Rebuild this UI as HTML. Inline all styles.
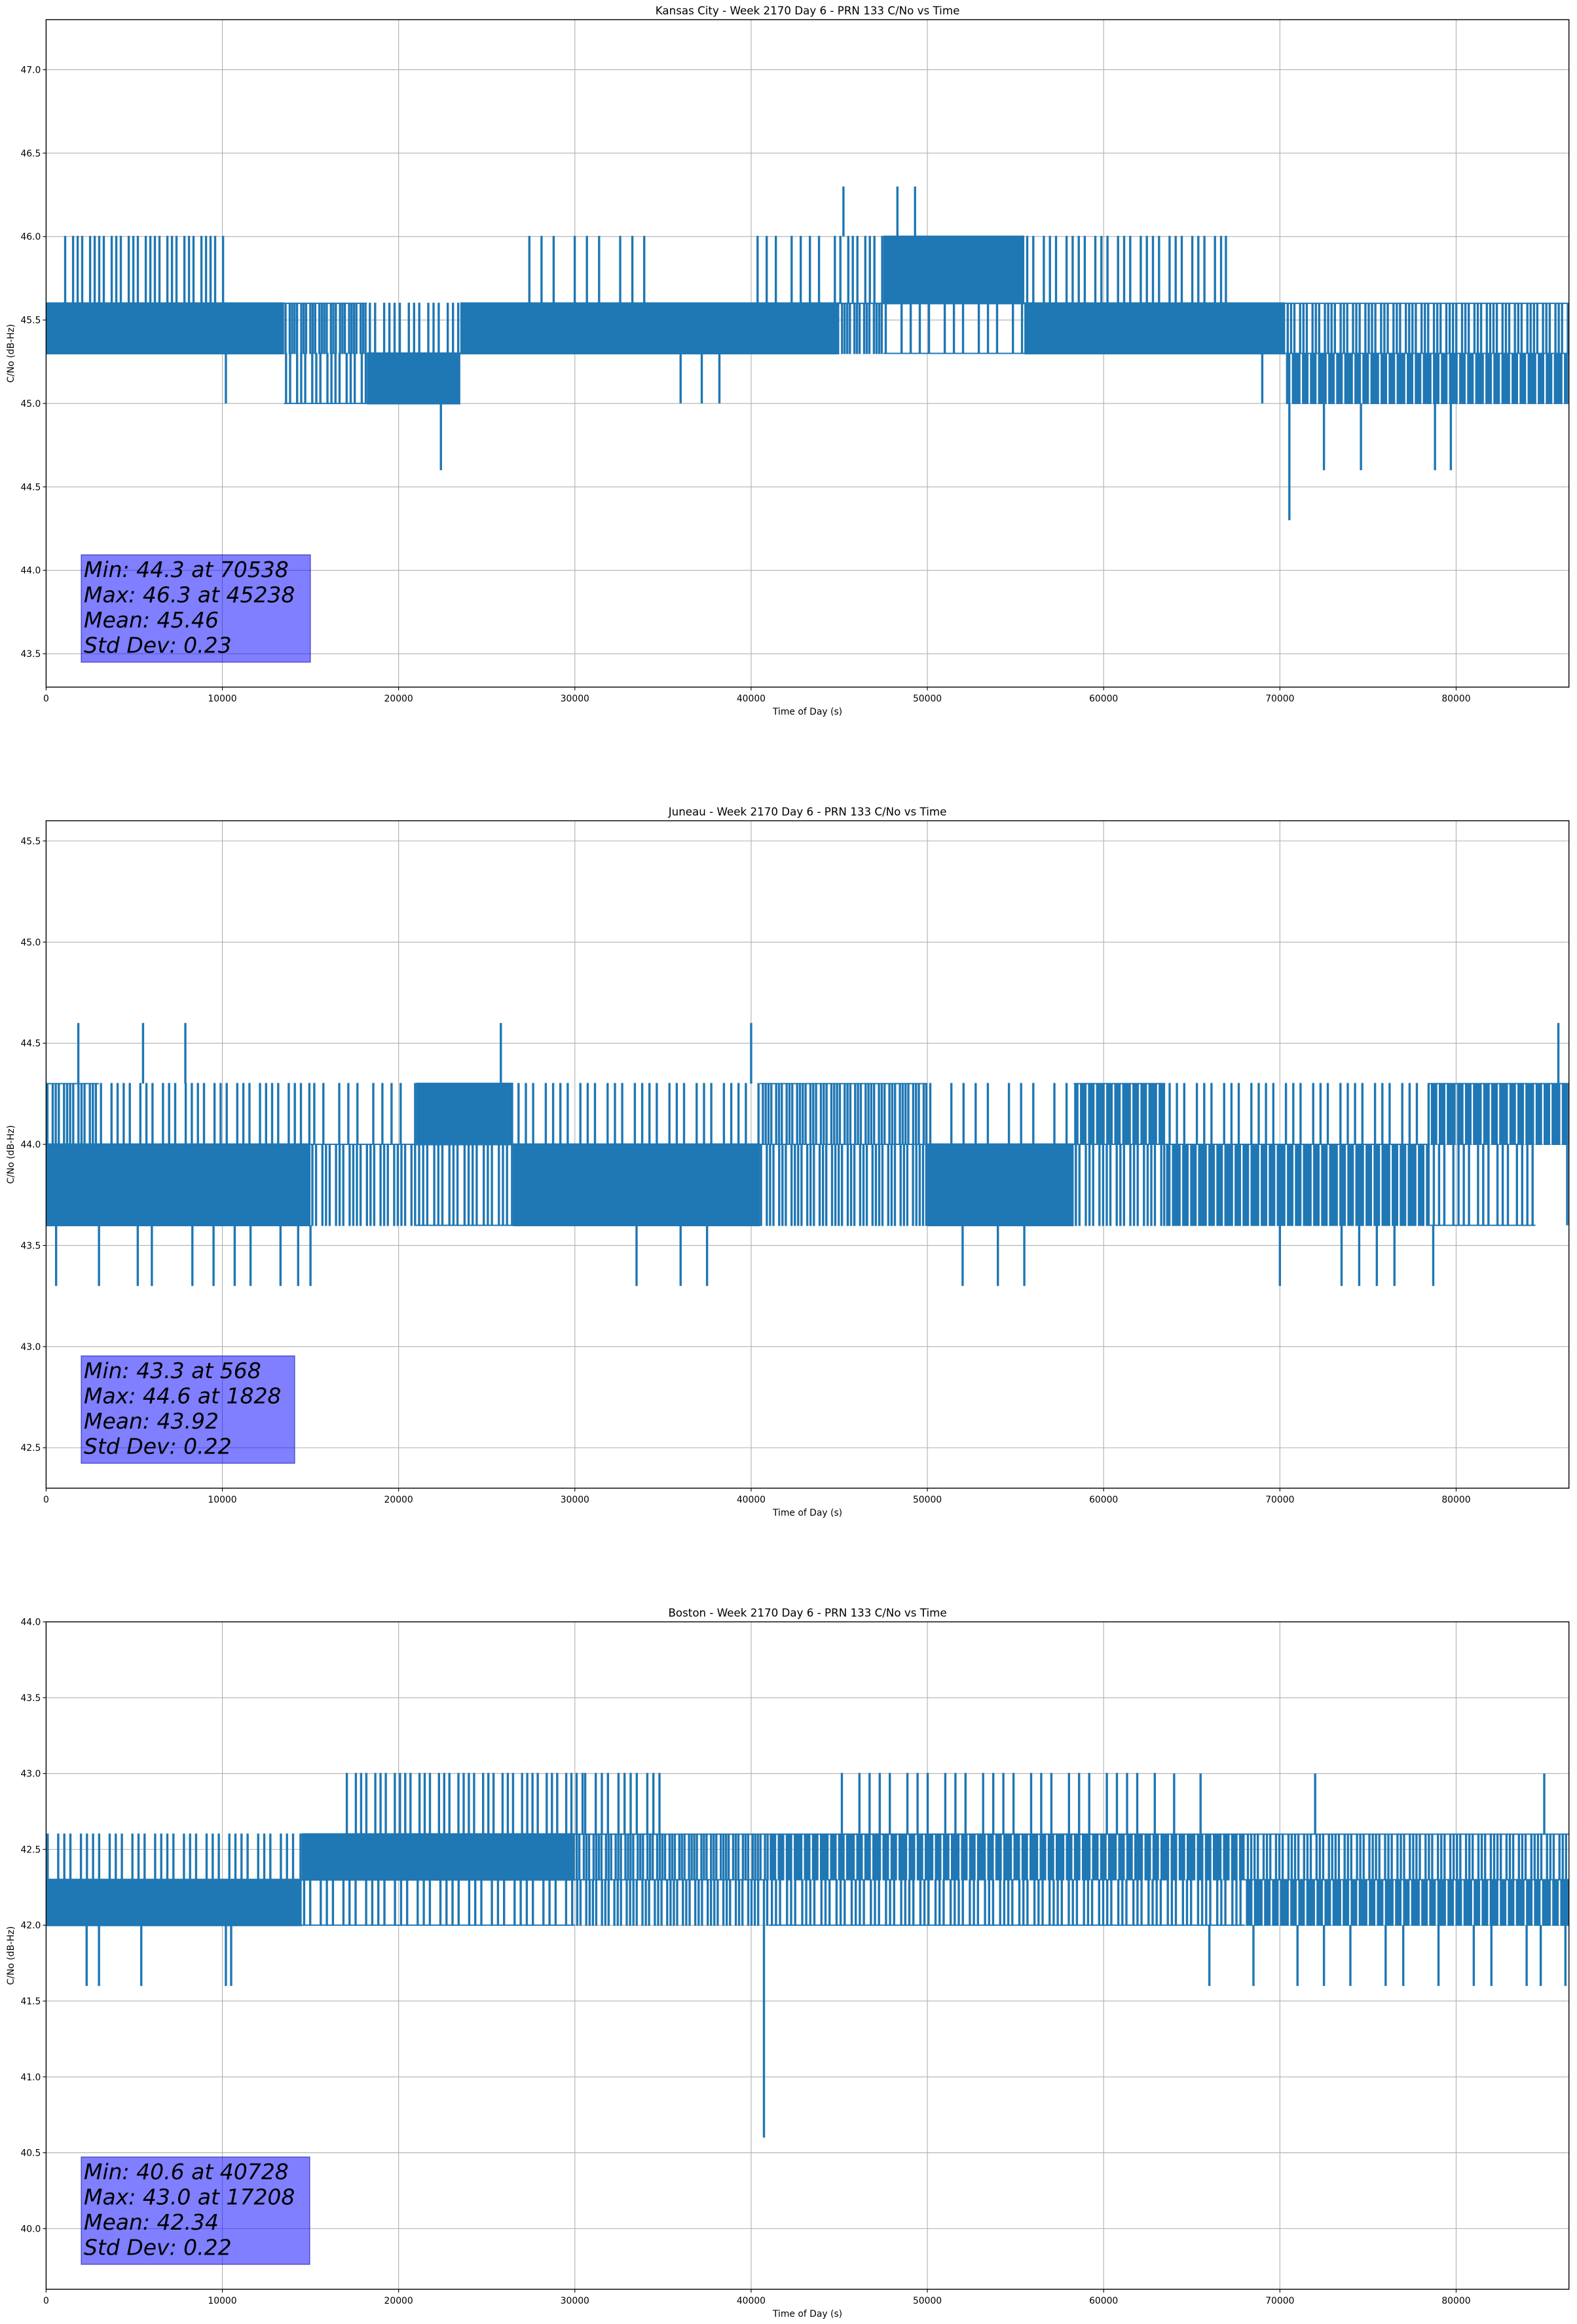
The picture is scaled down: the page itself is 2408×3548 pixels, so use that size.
<!DOCTYPE html>
<html><head><meta charset="utf-8">
<style>
html,body{margin:0;padding:0;background:#fff;}
svg{display:block;font-family:"DejaVu Sans","Liberation Sans",sans-serif;}
</style></head>
<body>
<svg id="fig" width="2408" height="3548" viewBox="0 0 2408 3548" xmlns="http://www.w3.org/2000/svg">
<rect x="0" y="0" width="2408" height="3548" fill="#fff"/>
</svg>
<script>
// ---- data ----
const titles = ["Kansas City - Week 2170 Day 6 - PRN 133 C/No vs Time","Juneau - Week 2170 Day 6 - PRN 133 C/No vs Time","Boston - Week 2170 Day 6 - PRN 133 C/No vs Time"];
const yMins = [43.3, 42.3, 39.6];
const yMaxs = [47.3, 45.6, 44.0];
const yTicks1 = [43.5,44.0,44.5,45.0,45.5,46.0,46.5,47.0];
const yTicks2 = [42.5,43.0,43.5,44.0,44.5,45.0,45.5];
const yTicks3 = [40.0,40.5,41.0,41.5,42.0,42.5,43.0,43.5,44.0];
const xTicks = [0,10000,20000,30000,40000,50000,60000,70000,80000];
const statLines1 = ["Min: 44.3 at 70538","Max: 46.3 at 45238","Mean: 45.46","Std Dev: 0.23"];
const statLines2 = ["Min: 43.3 at 568","Max: 44.6 at 1828","Mean: 43.92","Std Dev: 0.22"];
const statLines3 = ["Min: 40.6 at 40728","Max: 43.0 at 17208","Mean: 42.34","Std Dev: 0.22"];
// bands: [start, end, low, high, density]
const bands1 = [[0,13500,45.3,45.6,1],[1000,10200,45.6,46.0,0.4],[13500,18200,45.3,45.6,0.75],[13500,18200,45.0,45.3,0.45],[18200,23500,45.0,45.3,0.9],[18200,23500,45.3,45.6,0.35],[23500,45000,45.3,45.6,0.95],[27000,34000,45.6,46.0,0.15],[40000,45000,45.6,46.0,0.2],[45000,47500,45.3,45.6,0.7],[45000,47500,45.6,46.0,0.4],[47500,55500,45.6,46.0,0.95],[47500,55500,45.3,45.6,0.2],[55500,70300,45.3,45.6,0.95],[55500,67000,45.6,46.0,0.3],[70300,86400,45.0,45.3,0.85],[70300,86400,45.3,45.6,0.55]];
const spikes1 = [[10200,45.3,45.0],[22400,45.0,44.6],[36000,45.3,45.0],[37200,45.3,45.0],[38200,45.3,45.0],[45238,46.0,46.3],[48300,46.0,46.3],[49300,46.0,46.3],[69000,45.3,45.0],[70538,45.0,44.3],[72500,45.0,44.6],[74600,45.0,44.6],[78800,45.0,44.6],[79700,45.0,44.6]];
const bands2 = [[0,15000,43.6,44.0,0.9],[0,3000,44.0,44.3,0.6],[3000,15000,44.0,44.3,0.3],[15000,21000,43.6,44.0,0.5],[15000,21000,44.0,44.3,0.2],[21000,26500,44.0,44.3,0.9],[21000,26500,43.6,44.0,0.45],[26500,40500,43.6,44.0,0.95],[26500,40500,44.0,44.3,0.25],[40500,50000,44.0,44.3,0.65],[40500,50000,43.6,44.0,0.55],[50000,58300,43.6,44.0,0.95],[50000,58300,44.0,44.3,0.15],[58300,63500,44.0,44.3,0.85],[58300,63500,43.6,44.0,0.5],[63500,78500,43.6,44.0,0.85],[63500,78500,44.0,44.3,0.25],[78500,86400,44.0,44.3,0.85],[78500,84500,43.6,44.0,0.35]];
const spikes2 = [[1828,44.3,44.6],[5500,44.3,44.6],[7900,44.3,44.6],[25800,44.3,44.6],[40000,44.3,44.6],[85800,44.3,44.6],[568,43.6,43.3],[3000,43.6,43.3],[5200,43.6,43.3],[6000,43.6,43.3],[8300,43.6,43.3],[9500,43.6,43.3],[10700,43.6,43.3],[11600,43.6,43.3],[13300,43.6,43.3],[14300,43.6,43.3],[15000,43.6,43.3],[33500,43.6,43.3],[36000,43.6,43.3],[37500,43.6,43.3],[52000,43.6,43.3],[54000,43.6,43.3],[55500,43.6,43.3],[70000,43.6,43.3],[73500,43.6,43.3],[74500,43.6,43.3],[75500,43.6,43.3],[76500,43.6,43.3],[78700,43.6,43.3],[86300,44.3,43.6]];
const bands3 = [[0,14500,42.0,42.3,0.95],[0,14500,42.3,42.6,0.3],[14500,30000,42.3,42.6,0.9],[14500,30000,42.0,42.3,0.3],[30000,41000,42.3,42.6,0.7],[30000,41000,42.0,42.3,0.55],[41000,68000,42.3,42.6,0.85],[41000,68000,42.0,42.3,0.45],[68000,86400,42.0,42.3,0.85],[68000,86400,42.3,42.6,0.55],[17000,30500,42.6,43.0,0.35],[30500,35000,42.6,43.0,0.3],[45000,63000,42.6,43.0,0.18]];
const spikes3 = [[64000,42.6,43.0],[65500,42.6,43.0],[72000,42.6,43.0],[85000,42.6,43.0],[2300,42.0,41.6],[3000,42.0,41.6],[5400,42.0,41.6],[10200,42.0,41.6],[10500,42.0,41.6],[40728,42.0,40.6],[66000,42.0,41.6],[68500,42.0,41.6],[71000,42.0,41.6],[72500,42.0,41.6],[74000,42.0,41.6],[76000,42.0,41.6],[77000,42.0,41.6],[79000,42.0,41.6],[81000,42.0,41.6],[82000,42.0,41.6],[84000,42.0,41.6],[84800,42.0,41.6],[86200,42.0,41.6]];

const yTicksAll = [yTicks1, yTicks2, yTicks3];
const statsAll = [statLines1, statLines2, statLines3];
const bandsAll = [bands1, bands2, bands3];
const spikesAll = [spikes1, spikes2, spikes3];
const boxW = [350, 326, 349];

// ---- layout ----
const NS = "http://www.w3.org/2000/svg";
const svg = document.getElementById("fig");
const L = 70.4, R = 2395.7, H = 1019, tops = [30, 1253, 2476], X0 = 0, X1 = 86400;
const COLOR = "#1f77b4";
const LW = 3.4;
function mk(tag, attrs, parent) {
  const e = document.createElementNS(NS, tag);
  for (const k in attrs) e.setAttribute(k, attrs[k]);
  (parent || svg).appendChild(e);
  return e;
}

for (let p = 0; p < 3; p++) {
  const T = tops[p], B = T + H;
  const yMin = yMins[p], yMax = yMaxs[p];
  const xs = v => L + (v - X0) / (X1 - X0) * (R - L);
  const ys = v => B - (v - yMin) / (yMax - yMin) * H;
  const g = mk("g", {});
  
  
  const clipId = "clip" + p;
  const cp = mk("clipPath", {id: clipId}, g);
  mk("rect", {x: L, y: T, width: R - L, height: H}, cp);

  // grid
  xTicks.forEach(t => {
    const ln = mk("line", {x1: xs(t), x2: xs(t), y1: T, y2: B, stroke: "#b0b0b0", "stroke-width": 1.1}, g);
    
    
  });
  yTicksAll[p].forEach(t => {
    const ln = mk("line", {x1: L, x2: R, y1: ys(t), y2: ys(t), stroke: "#b0b0b0", "stroke-width": 1.1}, g);
    
    
  });

  // series
  const sg = mk("g", {"clip-path": "url(#" + clipId + ")"}, g);
  
  
  bandsAll[p].forEach((b, bi) => {
    const x0 = xs(b[0]), x1 = xs(b[1]), yt = ys(b[3]), yb = ys(b[2]);
    if (b[4] >= 0.9) {
      const r = mk("rect", {x: x0, y: yt - 1.5, width: x1 - x0, height: yb - yt + 3, fill: COLOR}, sg);
      
      
    } else {
      // dense toggling drawn as vertical strokes, spacing set by density
      let d = "";
      const step = LW / b[4];
      let k = 0;
      for (let x = x0 + LW / 2; x < x1; x += step) {
        const jit = ((k * 37 + bi * 11) % 10) / 10 * step * 0.6;
        const xx = Math.min(x + jit, x1 - LW / 2);
        d += "M" + xx.toFixed(1) + " " + (yt - 1) + "V" + (yb + 1);
        k++;
      }
      const path = mk("path", {d: d, stroke: COLOR, "stroke-width": LW, fill: "none"}, sg);
      
      
      const base = mk("line", {x1: x0, x2: x1, y1: (b[4] >= 0.5 ? yt : yb), y2: (b[4] >= 0.5 ? yt : yb), stroke: COLOR, "stroke-width": 2}, sg);
      
      
    }
  });
  spikesAll[p].forEach(s => {
    const ln = mk("line", {x1: xs(s[0]), x2: xs(s[0]), y1: ys(s[1]), y2: ys(s[2]), stroke: COLOR, "stroke-width": LW}, sg);
    
    
  });

  // frame
  const fr = mk("rect", {x: L, y: T, width: R - L, height: H, fill: "none", stroke: "#000", "stroke-width": 1.4}, g);
  
  

  // ticks
  xTicks.forEach(t => {
    const tk = mk("line", {x1: xs(t), x2: xs(t), y1: B, y2: B + 5, stroke: "#000", "stroke-width": 1.1}, g);
    
    
    const tx = mk("text", {x: xs(t), y: B + 22, "font-size": 13.9, "text-anchor": "middle", fill: "#000"}, g);
    tx.textContent = String(t);
    
    
  });
  yTicksAll[p].forEach(t => {
    const tk = mk("line", {x1: L - 5, x2: L, y1: ys(t), y2: ys(t), stroke: "#000", "stroke-width": 1.1}, g);
    
    
    const tx = mk("text", {x: L - 8, y: ys(t) + 5, "font-size": 13.9, "text-anchor": "end", fill: "#000"}, g);
    tx.textContent = t.toFixed(1);
    
    
  });

  // labels
  const ti = mk("text", {x: (L + R) / 2, y: T - 8, "font-size": 16.7, "text-anchor": "middle", fill: "#000"}, g);
  ti.textContent = titles[p];
  
  
  const xl = mk("text", {x: (L + R) / 2, y: B + 42, "font-size": 13.9, "text-anchor": "middle", fill: "#000"}, g);
  xl.textContent = "Time of Day (s)";
  
  
  const yl = mk("text", {x: 0, y: 0, "font-size": 13.9, "text-anchor": "middle", fill: "#000", transform: "translate(21," + ((T + B) / 2) + ") rotate(-90)"}, g);
  yl.textContent = "C/No (dB-Hz)";
  
  

  // stats box
  const bx = mk("rect", {x: 124, y: T + 817, width: boxW[p], height: 164, fill: "rgba(0,0,255,0.5)", stroke: "rgba(0,0,150,0.5)", "stroke-width": 1.5}, g);
  
  
  statsAll[p].forEach((s, i) => {
    const tx = mk("text", {x: 128, y: T + 851 + i * 38.5, "font-size": 33, "font-style": "italic", fill: "#000"}, g);
    tx.textContent = s;
    
    
  });
}
</script>
</body></html>
